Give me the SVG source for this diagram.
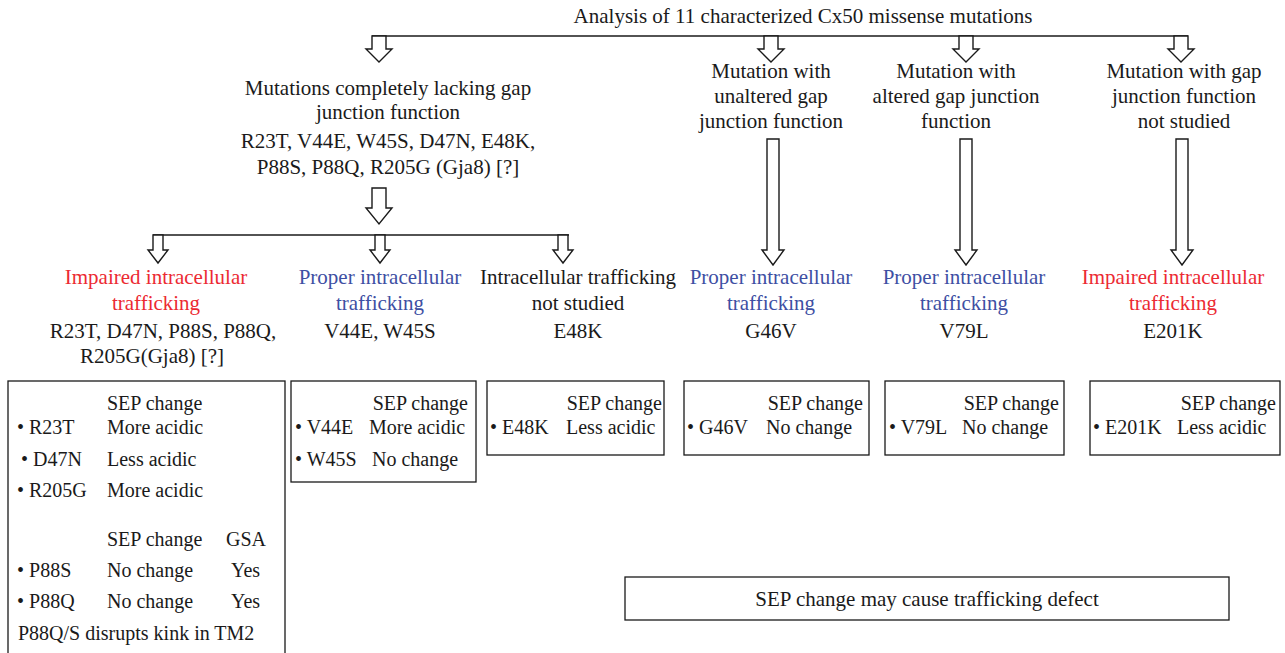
<svg xmlns="http://www.w3.org/2000/svg" width="1285" height="653" viewBox="0 0 1285 653">
  <style>
    text { font-family: "Liberation Serif", "Times New Roman", serif; font-size: 21px; fill: #1a1a1a; }
    .box text { font-size: 20px; }
    .c { text-anchor: middle; }
    .red { fill: #ec2a32; }
    .blue { fill: #3e4fa3; }
    .frame { fill: #ffffff; stroke: #1a1a1a; stroke-width: 1.3; }
    .arrow { fill: #ffffff; stroke: #1a1a1a; stroke-width: 1.4; stroke-linejoin: miter; }
    .line { fill: none; stroke: #1a1a1a; stroke-width: 1.6; }
  </style>
  <rect width="1285" height="653" fill="#ffffff"/>

  <!-- hollow block arrows and branch lines -->
  <g id="connectors">
    <line class="line" x1="372" y1="36" x2="1188" y2="36"/>
    <path class="arrow" d="M372,36 V49 H366 L379,62 L392,49 H386 V36 Z"/>
    <path class="arrow" d="M764,36 V49 H758 L771,62 L784,49 H778 V36 Z"/>
    <path class="arrow" d="M959,36 V49 H953 L966,62 L979,49 H973 V36 Z"/>
    <path class="arrow" d="M1174,36 V49 H1168 L1181,62 L1194,49 H1188 V36 Z"/>

    <path class="arrow" d="M372,188 V208 H366 L379,224 L392,208 H386 V188 Z"/>
    <line class="line" x1="153" y1="235" x2="569" y2="235"/>
    <path class="arrow" d="M153,235 V250 H148 L158,263 L168,250 H163 V235 Z"/>
    <path class="arrow" d="M375,235 V250 H370 L380,263 L390,250 H385 V235 Z"/>
    <path class="arrow" d="M558,235 V250 H553 L563,263 L573,250 H568 V235 Z"/>

    <path class="arrow" d="M767,139 V250 H762 L773,265 L784,250 H779 V139 Z"/>
    <path class="arrow" d="M960,139 V250 H955 L966,265 L977,250 H972 V139 Z"/>
    <path class="arrow" d="M1176,139 V250 H1171 L1182,265 L1193,250 H1188 V139 Z"/>
  </g>

  <g id="title">
    <text class="c" x="803" y="23">Analysis of 11 characterized Cx50 missense mutations</text>
  </g>

  <g id="lacking-function">
    <text class="c" x="388" y="95">Mutations completely lacking gap</text>
    <text class="c" x="388" y="119">junction function</text>
    <text class="c" x="388" y="148">R23T, V44E, W45S, D47N, E48K,</text>
    <text class="c" x="388" y="174">P88S, P88Q, R205G (Gja8) [?]</text>
  </g>

  <g id="unaltered-function">
    <text class="c" x="771" y="78">Mutation with</text>
    <text class="c" x="771" y="103">unaltered gap</text>
    <text class="c" x="771" y="128">junction function</text>
  </g>

  <g id="altered-function">
    <text class="c" x="956" y="78">Mutation with</text>
    <text class="c" x="956" y="103">altered gap junction</text>
    <text class="c" x="956" y="128">function</text>
  </g>

  <g id="not-studied-function">
    <text class="c" x="1184" y="78">Mutation with gap</text>
    <text class="c" x="1184" y="103">junction function</text>
    <text class="c" x="1184" y="128">not studied</text>
  </g>

  <g id="impaired-1">
    <text class="c red" x="156" y="284">Impaired intracellular</text>
    <text class="c red" x="156" y="310">trafficking</text>
    <text class="c" x="163" y="338">R23T, D47N, P88S, P88Q,</text>
    <text class="c" x="152" y="363">R205G(Gja8) [?]</text>
  </g>

  <g id="proper-1">
    <text class="c blue" x="380" y="284">Proper intracellular</text>
    <text class="c blue" x="380" y="310">trafficking</text>
    <text class="c" x="380" y="338">V44E, W45S</text>
  </g>

  <g id="not-studied-trafficking">
    <text class="c" x="578" y="284">Intracellular trafficking</text>
    <text class="c" x="578" y="310">not studied</text>
    <text class="c" x="578" y="338">E48K</text>
  </g>

  <g id="proper-2">
    <text class="c blue" x="771" y="284">Proper intracellular</text>
    <text class="c blue" x="771" y="310">trafficking</text>
    <text class="c" x="771" y="338">G46V</text>
  </g>

  <g id="proper-3">
    <text class="c blue" x="964" y="284">Proper intracellular</text>
    <text class="c blue" x="964" y="310">trafficking</text>
    <text class="c" x="964" y="338">V79L</text>
  </g>

  <g id="impaired-2">
    <text class="c red" x="1173" y="284">Impaired intracellular</text>
    <text class="c red" x="1173" y="310">trafficking</text>
    <text class="c" x="1173" y="338">E201K</text>
  </g>

  <g id="sep-box-1" class="box">
    <rect class="frame" x="8" y="381" width="277" height="280"/>
    <text x="107" y="410">SEP change</text>
    <text x="17" y="434">• R23T</text>
    <text x="107" y="434">More acidic</text>
    <text x="21" y="466">• D47N</text>
    <text x="107" y="466">Less acidic</text>
    <text x="17" y="497">• R205G</text>
    <text x="107" y="497">More acidic</text>
    <text x="107" y="546">SEP change</text>
    <text x="226" y="546">GSA</text>
    <text x="17" y="577">• P88S</text>
    <text x="107" y="577">No change</text>
    <text x="231" y="577">Yes</text>
    <text x="17" y="608">• P88Q</text>
    <text x="107" y="608">No change</text>
    <text x="231" y="608">Yes</text>
    <text x="18" y="640">P88Q/S disrupts kink in TM2</text>
  </g>

  <g id="sep-box-2" class="box">
    <rect class="frame" x="291" y="381" width="185" height="101"/>
    <text x="468" y="410" text-anchor="end">SEP change</text>
    <text x="295" y="434">• V44E</text>
    <text x="369" y="434">More acidic</text>
    <text x="295" y="466">• W45S</text>
    <text x="372" y="466">No change</text>
  </g>

  <g id="sep-box-3" class="box">
    <rect class="frame" x="487" y="381" width="177" height="74"/>
    <text x="662" y="410" text-anchor="end">SEP change</text>
    <text x="490" y="434">• E48K</text>
    <text x="566" y="434">Less acidic</text>
  </g>

  <g id="sep-box-4" class="box">
    <rect class="frame" x="684" y="381" width="185" height="74"/>
    <text x="863" y="410" text-anchor="end">SEP change</text>
    <text x="687" y="434">• G46V</text>
    <text x="766" y="434">No change</text>
  </g>

  <g id="sep-box-5" class="box">
    <rect class="frame" x="885" y="381" width="179" height="74"/>
    <text x="1059" y="410" text-anchor="end">SEP change</text>
    <text x="889" y="434">• V79L</text>
    <text x="962" y="434">No change</text>
  </g>

  <g id="sep-box-6" class="box">
    <rect class="frame" x="1090" y="381" width="190" height="74"/>
    <text x="1276" y="410" text-anchor="end">SEP change</text>
    <text x="1093" y="434">• E201K</text>
    <text x="1177" y="434">Less acidic</text>
  </g>

  <g id="conclusion">
    <rect class="frame" x="625" y="577" width="604" height="43"/>
    <text class="c" x="927" y="606">SEP change may cause trafficking defect</text>
  </g>
</svg>
